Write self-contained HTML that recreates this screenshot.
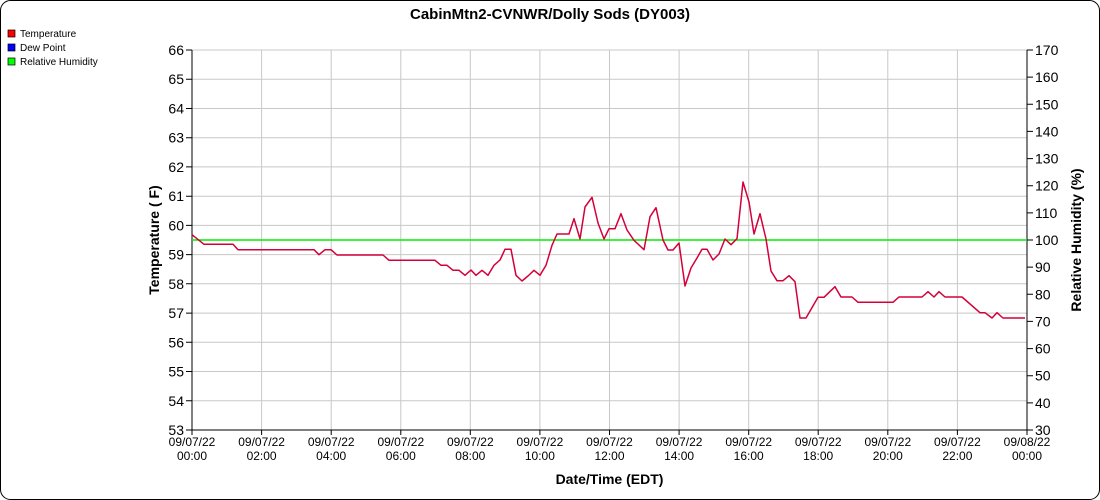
<!DOCTYPE html>
<html><head><meta charset="utf-8"><style>
html,body{margin:0;padding:0;background:#fff;}
svg{display:block;font-family:"Liberation Sans",Arial,sans-serif;}
</style></head><body>
<svg width="1100" height="500" viewBox="0 0 1100 500" xmlns="http://www.w3.org/2000/svg">
<rect x="0.5" y="0.5" width="1099" height="499" rx="10" fill="#fff" stroke="#000"/>
<text x="550" y="19" text-anchor="middle" font-size="15" font-weight="bold">CabinMtn2-CVNWR/Dolly Sods (DY003)</text>
<rect x="8" y="30" width="7" height="7" fill="#f00" stroke="#000" stroke-width="0.7"/>
<text x="20" y="37" font-size="10">Temperature</text>
<rect x="8" y="44" width="7" height="7" fill="#00f" stroke="#000" stroke-width="0.7"/>
<text x="20" y="51" font-size="10">Dew Point</text>
<rect x="8" y="58" width="7" height="7" fill="#0f0" stroke="#000" stroke-width="0.7"/>
<text x="20" y="65" font-size="10">Relative Humidity</text>
<g stroke="#c8c8c8" stroke-width="1">
<line x1="192" x2="1027" y1="50" y2="50"/><line x1="192" x2="1027" y1="79.2" y2="79.2"/><line x1="192" x2="1027" y1="108.5" y2="108.5"/><line x1="192" x2="1027" y1="137.7" y2="137.7"/><line x1="192" x2="1027" y1="166.9" y2="166.9"/><line x1="192" x2="1027" y1="196.2" y2="196.2"/><line x1="192" x2="1027" y1="225.4" y2="225.4"/><line x1="192" x2="1027" y1="254.6" y2="254.6"/><line x1="192" x2="1027" y1="283.8" y2="283.8"/><line x1="192" x2="1027" y1="313.1" y2="313.1"/><line x1="192" x2="1027" y1="342.3" y2="342.3"/><line x1="192" x2="1027" y1="371.5" y2="371.5"/><line x1="192" x2="1027" y1="400.8" y2="400.8"/>
<line y1="50" y2="430" x1="261.6" x2="261.6"/><line y1="50" y2="430" x1="331.2" x2="331.2"/><line y1="50" y2="430" x1="400.8" x2="400.8"/><line y1="50" y2="430" x1="470.3" x2="470.3"/><line y1="50" y2="430" x1="539.9" x2="539.9"/><line y1="50" y2="430" x1="609.5" x2="609.5"/><line y1="50" y2="430" x1="679.1" x2="679.1"/><line y1="50" y2="430" x1="748.7" x2="748.7"/><line y1="50" y2="430" x1="818.2" x2="818.2"/><line y1="50" y2="430" x1="887.8" x2="887.8"/><line y1="50" y2="430" x1="957.4" x2="957.4"/>
</g>
<g stroke="#000" stroke-width="1" fill="none">
<line x1="192" x2="192" y1="50" y2="430"/><line x1="1027" x2="1027" y1="50" y2="430"/><line x1="192" x2="1027" y1="430" y2="430"/>
<path d="M186 50h6M186 79.2h6M186 108.5h6M186 137.7h6M186 166.9h6M186 196.2h6M186 225.4h6M186 254.6h6M186 283.8h6M186 313.1h6M186 342.3h6M186 371.5h6M186 400.8h6M186 430h6"/>
<path d="M1027 50h6M1027 77.1h6M1027 104.3h6M1027 131.4h6M1027 158.6h6M1027 185.7h6M1027 212.9h6M1027 240h6M1027 267.1h6M1027 294.3h6M1027 321.4h6M1027 348.6h6M1027 375.7h6M1027 402.9h6M1027 430h6"/>
<path d="M192 430v5M261.6 430v5M331.2 430v5M400.8 430v5M470.3 430v5M539.9 430v5M609.5 430v5M679.1 430v5M748.7 430v5M818.2 430v5M887.8 430v5M957.4 430v5M1027 430v5"/>
</g>
<g font-size="14" text-anchor="end">
<text x="184" y="55">66</text><text x="184" y="84.2">65</text><text x="184" y="113.5">64</text><text x="184" y="142.7">63</text><text x="184" y="171.9">62</text><text x="184" y="201.2">61</text><text x="184" y="230.4">60</text><text x="184" y="259.6">59</text><text x="184" y="288.8">58</text><text x="184" y="318.1">57</text><text x="184" y="347.3">56</text><text x="184" y="376.5">55</text><text x="184" y="405.8">54</text><text x="184" y="435">53</text>
</g>
<g font-size="14">
<text x="1035" y="55">170</text><text x="1035" y="82.1">160</text><text x="1035" y="109.3">150</text><text x="1035" y="136.4">140</text><text x="1035" y="163.6">130</text><text x="1035" y="190.7">120</text><text x="1035" y="217.9">110</text><text x="1035" y="245">100</text><text x="1035" y="272.1">90</text><text x="1035" y="299.3">80</text><text x="1035" y="326.4">70</text><text x="1035" y="353.6">60</text><text x="1035" y="380.7">50</text><text x="1035" y="407.9">40</text><text x="1035" y="435">30</text>
</g>
<g font-size="12" text-anchor="middle">
<text x="192" y="446">09/07/22</text><text x="192" y="460">00:00</text>
<text x="261.6" y="446">09/07/22</text><text x="261.6" y="460">02:00</text>
<text x="331.2" y="446">09/07/22</text><text x="331.2" y="460">04:00</text>
<text x="400.8" y="446">09/07/22</text><text x="400.8" y="460">06:00</text>
<text x="470.3" y="446">09/07/22</text><text x="470.3" y="460">08:00</text>
<text x="539.9" y="446">09/07/22</text><text x="539.9" y="460">10:00</text>
<text x="609.5" y="446">09/07/22</text><text x="609.5" y="460">12:00</text>
<text x="679.1" y="446">09/07/22</text><text x="679.1" y="460">14:00</text>
<text x="748.7" y="446">09/07/22</text><text x="748.7" y="460">16:00</text>
<text x="818.2" y="446">09/07/22</text><text x="818.2" y="460">18:00</text>
<text x="887.8" y="446">09/07/22</text><text x="887.8" y="460">20:00</text>
<text x="957.4" y="446">09/07/22</text><text x="957.4" y="460">22:00</text>
<text x="1027" y="446">09/08/22</text><text x="1027" y="460">00:00</text>
</g>
<text x="609.5" y="484" text-anchor="middle" font-size="14" font-weight="bold">Date/Time (EDT)</text>
<text transform="translate(159,240) rotate(-90)" text-anchor="middle" font-size="14" font-weight="bold">Temperature ( F)</text>
<text transform="translate(1081,240) rotate(-90)" text-anchor="middle" font-size="14" font-weight="bold">Relative Humidity (%)</text>
<line x1="192" x2="1027" y1="240" y2="240" stroke="#00ee00" stroke-width="1.5"/>
<polyline fill="none" stroke="#d4003a" stroke-width="1.5" stroke-linejoin="round" points="192,234.7 204,244.3 233,244.3 238,249.7 314,249.7 319,254.7 325,249.7 331,249.7 337,255 383,255 389,260.3 435,260.3 441,265.3 447,265.3 453,270.3 459,270.3 465,275.3 471,270 476,275.3 482,270.3 488,275.3 494,265.3 500,260 505,249.3 511,249.3 516,275.3 522,281 528,276 534,270.3 540,275.3 546,265.3 552,245.3 557,234 563,234 569,234 574,218.7 580,239 585,207 592,197.3 598,223 604,239 609,228.7 615,228.7 621,213.7 627,230 634,240.3 644,249.7 650,216.7 656,207.7 663,240 668,250 673,250 679,243 685,286 691,268 697,258 702,249.3 707,249.3 713,260 719,254 725,239 731,244.7 737,238.7 743,182 749,202 754,234 760,213.7 766,239 771,271 777,280.7 783,280.7 789,275.7 795,281.7 800,318 806,318 818,297.3 824,297.3 835,286.7 841,297 852,297 858,302.3 893,302.3 899,297 922,297 928,291.7 934,297 939,291.7 945,297 962,297 980,312.7 985,312.7 992,318 997,312.7 1003,318 1025,318"/>
</svg>
</body></html>
